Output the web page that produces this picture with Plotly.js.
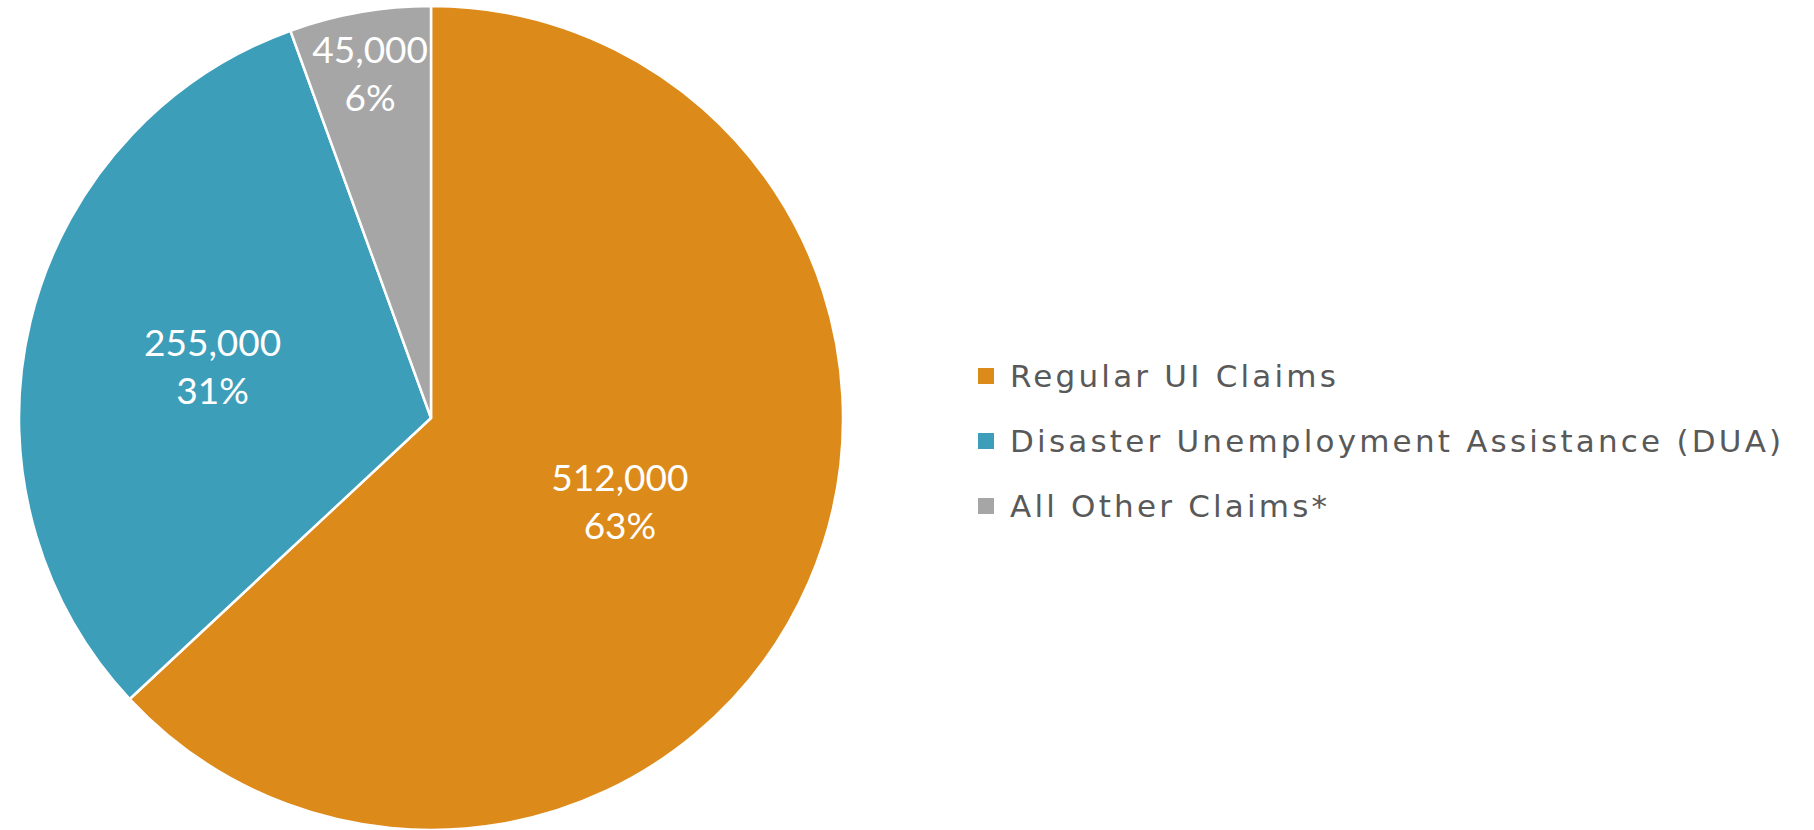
<!DOCTYPE html>
<html>
<head>
<meta charset="utf-8">
<script src="https://cdn.plot.ly/plotly-3.0.1.min.js"></script>
<style>
html,body{margin:0;padding:0;background:#fff;}
#chart{width:1814px;height:830px;}
.annotation-text{letter-spacing:3.2px;}
</style>
</head>
<body>
<div id="chart"></div>
<script>
const categories = ["Regular UI Claims", "Disaster Unemployment Assistance (DUA)", "All Other Claims*"];
const claimValues = [512000, 255000, 45000];
const sliceColors = ["#DC8A1A", "#3D9EB9", "#A6A6A6"];

const LABEL_FONT = "Lato, 'Noto Sans', sans-serif";
const LEGEND_FONT = "'DejaVu Sans', Lato, sans-serif";
const W = 1814, H = 830;

const trace = {
  type: "pie",
  labels: categories,
  values: claimValues,
  sort: false,
  direction: "clockwise",
  rotation: 0,
  marker: {colors: sliceColors, line: {color: "#ffffff", width: 2.5}},
  texttemplate: "%{value:,.0f}<br>%{percent:.0%}",
  textposition: "inside",
  insidetextorientation: "horizontal",
  textfont: {family: LABEL_FONT, size: 37, color: "#ffffff"},
  hoverinfo: "label+value+percent",
  domain: {x: [19 / W, 843 / W], y: [0, 1 - 6 / H]},
  showlegend: false
};

// Hand-built legend (squares + labels) to match row spacing of the reference
const shapes = [];
const annotations = [];
const legX = 978, legY0 = 376, legStep = 65, box = 16;
categories.forEach((c, i) => {
  const cy = legY0 + i * legStep;
  shapes.push({
    type: "rect", xref: "paper", yref: "paper",
    x0: legX / W, x1: (legX + box) / W,
    y0: 1 - (cy + box / 2) / H, y1: 1 - (cy - box / 2) / H,
    fillcolor: sliceColors[i], line: {width: 0}
  });
  annotations.push({
    xref: "paper", yref: "paper",
    x: (legX + box + 14) / W, y: 1 - cy / H,
    xanchor: "left", yanchor: "middle",
    text: c, showarrow: false,
    font: {family: LEGEND_FONT, size: 31, color: "#595959"}
  });
});

const layout = {
  width: W, height: H,
  margin: {l: 0, r: 0, t: 0, b: 0},
  paper_bgcolor: "#ffffff",
  showlegend: false,
  uniformtext: {mode: "show", minsize: 37},
  shapes: shapes,
  annotations: annotations
};

Plotly.newPlot("chart", [trace], layout, {displayModeBar: false});
</script>
</body>
</html>
